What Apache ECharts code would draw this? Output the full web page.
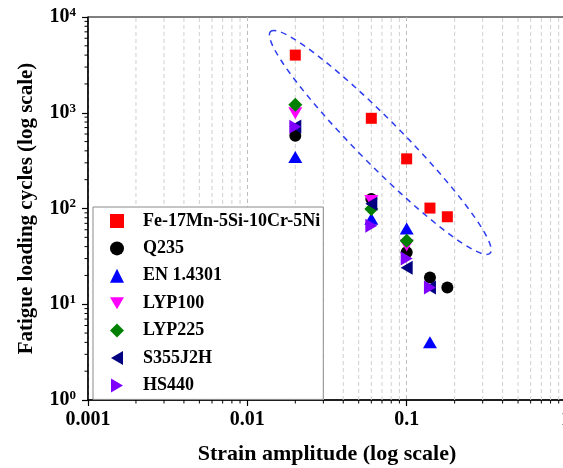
<!DOCTYPE html>
<html>
<head>
<meta charset="utf-8">
<script src="https://cdn.jsdelivr.net/npm/echarts@6/dist/echarts.min.js"></script>
<style>
  html, body { margin: 0; padding: 0; background: #fff; }
  #chart { width: 563px; height: 468px; }
</style>
</head>
<body>
<div id="chart"></div>
<script>
// Fatigue life vs. strain amplitude for several steels (log-log)
const seriesNames = ['Fe-17Mn-5Si-10Cr-5Ni', 'Q235', 'EN 1.4301', 'LYP100', 'LYP225', 'S355J2H', 'HS440'];

const strainFe = [0.02, 0.06, 0.1, 0.14, 0.18];
const cyclesFe = [4000, 875, 330, 101, 82];

const strainQ235 = [0.02, 0.06, 0.1, 0.14, 0.18];
const cyclesQ235 = [575, 126, 35, 19, 15];

const strainEN = [0.02, 0.06, 0.1, 0.14];
const cyclesEN = [345, 78, 62, 4];

const strainLYP100 = [0.02, 0.06, 0.1];
const cyclesLYP100 = [990, 120, 41];

const strainLYP225 = [0.02, 0.06, 0.1];
const cyclesLYP225 = [1210, 99, 46];

const strainS355 = [0.02, 0.06, 0.1, 0.14];
const cyclesS355 = [720, 112, 24, 15];

const strainHS440 = [0.02, 0.06, 0.1, 0.14];
const cyclesHS440 = [715, 66, 30, 15];

const xTickLabels = ['0.001', '0.01', '0.1', '1'];
const yTickExponents = ['0', '1', '2', '3', '4'];

// minor log ticks: 2..9 within each decade
const minorSteps = [2, 3, 4, 5, 6, 7, 8, 9];
const xDecades = [0.001, 0.01, 0.1];
const yDecades = [1, 10, 100, 1000];

// centre of the highlighted Fe-Mn-Si group (data coordinates)
const groupCenter = [0.0683, 490];

const FONT = 'Liberation Serif';

const xMinor = [];
xDecades.forEach(d => minorSteps.forEach(m => xMinor.push(+(d * m).toPrecision(3))));
const yMinor = [];
yDecades.forEach(d => minorSteps.forEach(m => yMinor.push(+(d * m).toPrecision(3))));

function zip(xs, ys) { return xs.map((x, i) => [x, ys[i]]); }

const symbols = {
  downTri: 'path://M0,0 L14,0 L7,12 Z',
  leftTri: 'path://M0,7 L12,0 L12,14 Z',
  rightTri: 'path://M0,0 L12,7 L0,14 Z'
};

const chart = echarts.init(document.getElementById('chart'), null, { renderer: 'canvas' });

function scatter(name, data, symbol, size, color) {
  return {
    name, type: 'scatter', data, symbol, symbolSize: size,
    itemStyle: { color, opacity: 1 }, z: 3,
    emphasis: { disabled: true }
  };
}

chart.setOption({
  animation: false,
  backgroundColor: '#fff',
  grid: {
    left: 88, top: 17, right: -3, bottom: 68,
    outerBoundsMode: 'none', containLabel: false,
    show: true, borderColor: '#000', borderWidth: 1
  },
  xAxis: {
    type: 'log', logBase: 10, min: 0.001, max: 1,
    name: 'Strain amplitude (log scale)', nameLocation: 'middle', nameGap: 43,
    nameTextStyle: { fontFamily: FONT, fontWeight: 'bold', fontSize: 22, color: '#000' },
    axisLine: { lineStyle: { color: '#000', width: 1.5 } },
    axisTick: { length: 6, lineStyle: { color: '#000', width: 1.2 } },
    axisLabel: {
      margin: 10, fontFamily: FONT, fontWeight: 'bold', fontSize: 20, color: '#000',
      formatter: v => xTickLabels[Math.round(Math.log10(v)) + 3]
    },
    splitLine: { show: true, lineStyle: { color: '#bdbdbd', type: [4, 3], width: 1 } }
  },
  yAxis: {
    type: 'log', logBase: 10, min: 1, max: 10000,
    name: 'Fatigue loading cycles (log scale)', nameLocation: 'middle', nameGap: 51,
    nameTextStyle: { fontFamily: FONT, fontWeight: 'bold', fontSize: 21, color: '#000' },
    axisLine: { lineStyle: { color: '#000', width: 1.5 } },
    axisTick: { length: 6, lineStyle: { color: '#000', width: 1.2 } },
    axisLabel: {
      margin: 12, color: '#000',
      formatter: v => '{b|10}{s|' + yTickExponents[Math.round(Math.log10(v))] + '}',
      rich: {
        b: { fontFamily: FONT, fontWeight: 'bold', fontSize: 20, lineHeight: 22, color: '#000' },
        s: { fontFamily: FONT, fontWeight: 'bold', fontSize: 13, lineHeight: 14, verticalAlign: 'top', color: '#000' }
      }
    },
    splitLine: { show: false }
  },
  legend: {
    orient: 'vertical', left: 93, top: 207,
    padding: [4, 3, 4, 17],
    itemWidth: 14, itemHeight: 14, itemGap: 7.4,
    borderColor: '#8a8a8a', borderWidth: 1, backgroundColor: '#fff',
    selectedMode: false,
    textStyle: { fontFamily: FONT, fontWeight: 'bold', fontSize: 18, lineHeight: 20, color: '#000', padding: [0, 0, 0, 14] },
    data: seriesNames
  },
  series: [
    // vertical minor grid lines and minor ticks on the x axis
    {
      type: 'custom', silent: true, clip: false, z: 1,
      data: xMinor.map(v => [v, 1]),
      renderItem: (params, api) => {
        const b = api.coord([api.value(0), 1]);
        const t = api.coord([api.value(0), 10000]);
        return {
          type: 'group', children: [
            { type: 'line', shape: { x1: b[0], y1: b[1], x2: t[0], y2: t[1] },
              style: { stroke: '#d0d0d0', lineWidth: 1, lineDash: [4, 3] } },
            { type: 'line', shape: { x1: b[0], y1: b[1], x2: b[0], y2: b[1] + 3.5 },
              style: { stroke: '#000', lineWidth: 1 } }
          ]
        };
      }
    },
    // minor ticks on the y axis
    {
      type: 'custom', silent: true, clip: false, z: 1,
      data: yMinor.map(v => [0.001, v]),
      renderItem: (params, api) => {
        const p = api.coord([0.001, api.value(1)]);
        return { type: 'line', shape: { x1: p[0] - 3.5, y1: p[1], x2: p[0], y2: p[1] },
                 style: { stroke: '#000', lineWidth: 1 } };
      }
    },
    scatter(seriesNames[0], zip(strainFe, cyclesFe), 'rect', 11, '#ff0000'),
    scatter(seriesNames[1], zip(strainQ235, cyclesQ235), 'circle', 12, '#000000'),
    scatter(seriesNames[2], zip(strainEN, cyclesEN), 'triangle', [14, 12], '#0000ff'),
    scatter(seriesNames[3], zip(strainLYP100, cyclesLYP100), symbols.downTri, [14, 12], '#ff00ff'),
    scatter(seriesNames[4], zip(strainLYP225, cyclesLYP225), 'diamond', 14, '#008000'),
    scatter(seriesNames[5], zip(strainS355, cyclesS355), symbols.leftTri, [12, 14], '#000080'),
    scatter(seriesNames[6], zip(strainHS440, cyclesHS440), symbols.rightTri, [12, 14], '#8000ff')
  ]
});

// dashed ellipse around the Fe-Mn-Si points
const c = chart.convertToPixel({ gridIndex: 0 }, groupCenter);
chart.setOption({
  graphic: [{
    type: 'ellipse', x: c[0], y: c[1], rotation: -45.3 * Math.PI / 180,
    shape: { cx: 0, cy: 0, rx: 156, ry: 22.5 },
    style: { fill: null, stroke: '#2b3cf0', lineWidth: 1.5, lineDash: [6, 5] },
    silent: true, z: 4
  }]
});
</script>
</body>
</html>
